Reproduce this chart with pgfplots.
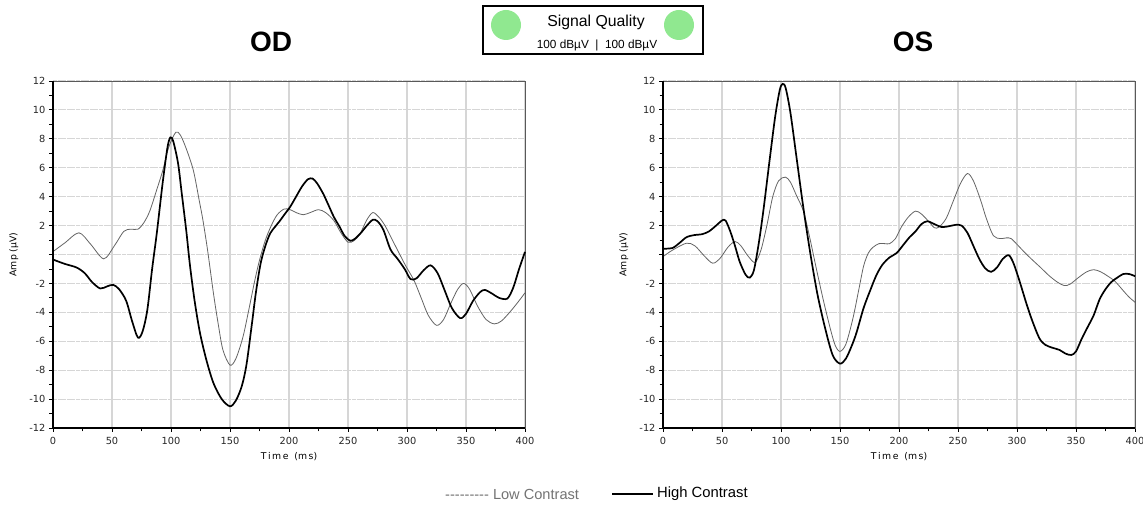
\documentclass[border=0pt]{standalone}
\usepackage{pgfplots}
\pgfplotsset{compat=1.18}
\usepackage{pgfplotstable}
\usepackage{fontspec}
\setmainfont{Liberation Sans}
\newfontfamily\dejavu{DejaVu Sans}
\definecolor{gridgray}{RGB}{214,214,214}
\definecolor{lowgray}{RGB}{100,100,100}
\definecolor{sqgreen}{RGB}{144,232,144}

% OD, low contrast
\pgfplotstableread{
t v
0 0.2
10 0.8
22 1.5
32 0.7
43 -0.3
52 0.6
60 1.6
66 1.75
72 1.75
77 2.2
82 3.0
88 4.5
93 5.8
98 7.4
104 8.45
108 8.25
113 7.3
119 5.8
124 3.7
127 2.4
131 0.3
136 -2.7
140 -4.8
144 -6.6
150 -7.65
155 -7.2
161 -5.7
166 -3.8
171 -1.8
175 -0.4
180 1.0
185 2.0
190 2.75
196 3.15
201 3.1
206 2.9
212 2.75
218 2.9
225 3.1
231 2.9
238 2.35
244 1.5
250 0.85
255 0.95
260 1.4
266 2.4
271 2.9
276 2.6
281 2.05
287 1.1
292 0.3
299 -0.8
306 -1.8
312 -3.0
318 -4.2
325 -4.9
331 -4.5
337 -3.4
343 -2.4
348 -2.0
353 -2.4
360 -3.6
367 -4.5
374 -4.8
380 -4.6
387 -4.0
394 -3.3
400 -2.65
}\odlow

% OD, high contrast
\pgfplotstableread{
t v
0 -0.35
10 -0.65
20 -0.9
27 -1.3
33 -1.9
40 -2.35
46 -2.2
51 -2.1
56 -2.4
62 -3.2
67 -4.6
72 -5.75
76 -5.3
80 -3.8
84 -1.0
88 1.5
93 5.0
97 7.4
99.5 8.1
102 7.8
106 6.3
109 4.3
113 1.6
116 -0.7
120 -3.2
124.5 -5.4
130 -7.3
136 -8.9
143 -10.0
150 -10.5
155 -10.1
160 -9.1
164 -7.6
168.4 -4.9
172 -2.6
176 -0.6
180 0.6
184 1.45
188 1.9
192 2.3
196 2.75
201 3.3
206 4.0
211 4.7
216 5.2
220 5.25
224 4.9
229 4.2
233 3.5
238 2.6
243 1.9
247 1.3
252 0.95
256 1.1
261 1.5
266 2.0
271 2.4
275 2.3
280 1.7
286 0.35
292 -0.3
298 -1.0
303 -1.7
308 -1.65
314 -1.1
320 -0.75
326 -1.3
332 -2.5
338 -3.7
345 -4.4
350 -4.1
356 -3.2
362 -2.6
366 -2.45
372 -2.7
378 -3.0
385 -3.05
390 -2.3
395 -1.0
400 0.18
}\odhigh

% OS, low contrast
\pgfplotstableread{
t v
0 -0.15
8 0.3
19.8 0.78
27 0.6
35 -0.1
42 -0.6
48 -0.3
55 0.5
61 0.9
66 0.6
72 -0.1
78 -0.55
83 0.3
88 2.0
93 4.0
98 5.1
103.8 5.35
108 5.0
113 4.1
119 3.0
124 1.3
130 -1.0
136 -3.2
142 -5.2
146 -6.3
150 -6.7
155 -6.2
161 -4.4
166 -2.4
170 -0.8
174 0.1
178 0.5
183 0.75
188 0.75
192 0.75
197 1.1
202 1.9
208 2.6
214 3.0
219 2.8
225 2.3
230 1.85
234 1.9
240 2.5
246 3.7
252 4.9
258 5.6
263 5.1
269 3.8
274 2.5
280 1.3
286 1.1
291 1.15
295 1.1
300 0.7
307 0.1
314 -0.45
320 -0.9
327 -1.45
334 -1.9
340 -2.15
345 -2.05
352 -1.6
359 -1.2
365 -1.05
371 -1.2
377 -1.5
383 -1.85
390 -2.5
395 -2.95
400 -3.3
}\oslow

% OS, high contrast
\pgfplotstableread{
t v
0 0.4
8 0.45
14 0.8
20 1.2
27 1.35
33 1.4
39 1.6
45 2.0
50 2.35
53 2.35
57 1.6
61 0.6
65 -0.5
70 -1.4
73.5 -1.6
77 -1.1
81 0.7
85 3.0
90 6.3
95 9.5
99 11.4
101.5 11.8
104 11.5
108 9.8
113 6.8
119 3.2
125 0.0
131 -2.8
138 -5.3
144 -7.0
150 -7.55
155 -7.2
160 -6.3
164 -5.4
170 -3.7
176 -2.4
181 -1.4
186 -0.7
192 -0.2
198 0.1
204 0.7
209 1.2
214 1.6
219 2.1
224 2.3
230 2.1
236 1.9
242 1.95
248 2.05
253 2.0
258 1.5
263 0.6
268 -0.3
273 -0.95
278 -1.2
283 -0.9
288 -0.3
293 -0.05
297 -0.6
302 -1.8
308 -3.4
313 -4.6
319 -5.8
324 -6.25
330 -6.45
336 -6.6
341 -6.85
346 -6.95
350 -6.7
355 -5.8
360 -5.0
365 -4.2
370 -3.1
375 -2.4
380 -1.9
385 -1.6
390 -1.35
395 -1.35
400 -1.5
}\oshigh

\pgfplotsset{
  erg/.style={
    scale only axis, width=472pt, height=347pt, anchor=south west,
    xmin=0, xmax=400, ymin=-12, ymax=12, clip=false,
    xtick={0,50,...,400}, xticklabels={0,50,100,150,200,250,300,350,400},
    ytick={-12,-10,...,12}, yticklabels={-12,-10,-8,-6,-4,-2,,2,4,6,8,10,12},
    minor x tick num=1, minor y tick num=1,
    tick align=outside, tick pos=left,
    major tick length=4pt, minor tick length=3.5pt,
    every tick/.style={black, line width=0.9pt},
    grid=major,
    x grid style={gridgray, line width=1.1pt},
    y grid style={gridgray, line width=1.1pt, dash pattern=on 4pt off 0.6pt},
    axis line style={draw=black!65, line width=0.8pt},
    ticklabel style={font=\dejavu\fontsize{9.8}{11}\selectfont, text=black!85},
    xticklabel style={yshift=-1.5pt},
    xlabel={T\,i\,m\,e\ \ (m\,s)}, ylabel={Amp (µV)},
    label style={font=\dejavu\fontsize{9.3}{10}\selectfont},
    xlabel style={at={(axis description cs:0.5,-0.081)}, anchor=center},
    ylabel style={at={(axis description cs:-0.083,0.5)}, anchor=center},
  },
  lowc/.style={lowgray, line width=0.8pt, smooth, no marks},
  highc/.style={black, line width=1.7pt, smooth, no marks},
}

\begin{document}
\begin{tikzpicture}
\useasboundingbox (0,0) rectangle (1143pt,505pt);

\begin{axis}[erg, at={(53pt,77pt)}]
\addplot[lowc] table[x=t,y=v] {\odlow};
\addplot[highc] table[x=t,y=v] {\odhigh};
\draw[black, line width=1.6pt] (rel axis cs:0,1) -- (rel axis cs:0,0) -- (rel axis cs:1,0);
\end{axis}

\begin{axis}[erg, at={(663pt,77pt)}]
\addplot[lowc] table[x=t,y=v] {\oslow};
\addplot[highc] table[x=t,y=v] {\oshigh};
\draw[black, line width=1.6pt] (rel axis cs:0,1) -- (rel axis cs:0,0) -- (rel axis cs:1,0);
\end{axis}

% titles
\node[font=\bfseries\fontsize{28}{30}\selectfont] at (271pt,463pt) {OD};
\node[font=\bfseries\fontsize{28}{30}\selectfont] at (913pt,463pt) {OS};

% signal quality box
\draw[line width=1.3pt] (483pt,451pt) rectangle (703pt,499pt);
\fill[sqgreen] (506pt,480pt) circle (15pt);
\fill[sqgreen] (679pt,480pt) circle (15pt);
\node at (596pt,483pt) {\fontsize{15.8}{17}\selectfont Signal Quality};
\node at (597pt,460pt) {\fontsize{11.8}{13}\selectfont 100 dBµV \ | \ 100 dBµV};

% legend
\node[anchor=west, text=black!55, inner sep=0pt] at (445pt,11pt)
  {\fontsize{14.6}{16}\selectfont -{}-{}-{}-{}-{}-{}-{}-{}- Low Contrast};
\draw[black, line width=1.3pt] (612pt,11pt) -- (653pt,11pt);
\node[anchor=west, inner sep=0pt] at (657pt,11pt) {\fontsize{14.8}{16}\selectfont High Contrast};
\end{tikzpicture}
\end{document}
